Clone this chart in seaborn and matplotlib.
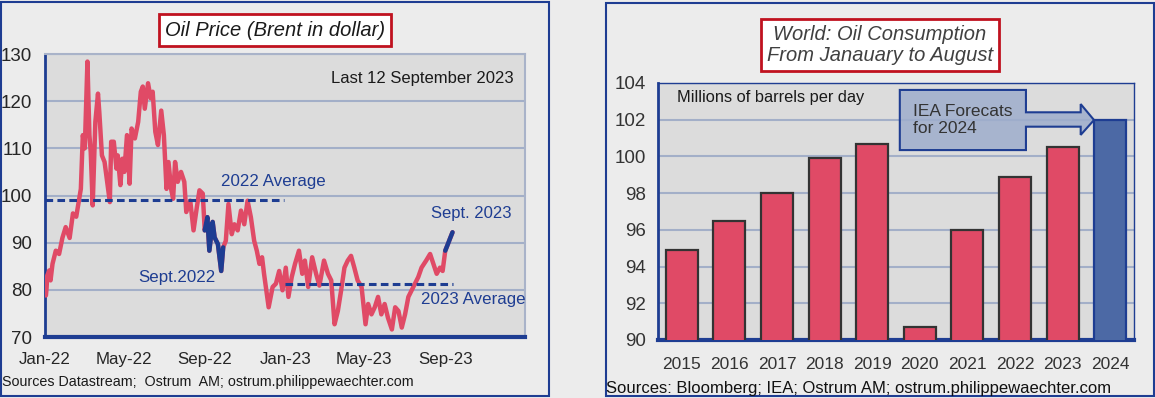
import numpy as np
import pandas as pd
import matplotlib
matplotlib.use('Agg')
from matplotlib import pyplot as plt
import matplotlib.dates as mdates
from matplotlib.patches import Rectangle, Polygon
import seaborn as sns

# Brent price
brent_dates = [
    '2022-01-03', '2022-01-04', '2022-01-05', '2022-01-08', '2022-01-10', '2022-01-13',
    '2022-01-18', '2022-01-23', '2022-01-28', '2022-02-02', '2022-02-08', '2022-02-13',
    '2022-02-18', '2022-02-20', '2022-02-25', '2022-02-28', '2022-03-03', '2022-03-07',
    '2022-03-10', '2022-03-12', '2022-03-15', '2022-03-19', '2022-03-23', '2022-03-25',
    '2022-03-29', '2022-04-02', '2022-04-06', '2022-04-10', '2022-04-12', '2022-04-16',
    '2022-04-20', '2022-04-22', '2022-04-26', '2022-04-29', '2022-05-02', '2022-05-06',
    '2022-05-10', '2022-05-13', '2022-05-18', '2022-05-23', '2022-05-27', '2022-05-30',
    '2022-06-02', '2022-06-07', '2022-06-11', '2022-06-14', '2022-06-18', '2022-06-22',
    '2022-06-27', '2022-07-01', '2022-07-05', '2022-07-08', '2022-07-12', '2022-07-15',
    '2022-07-18', '2022-07-22', '2022-07-27', '2022-08-01', '2022-08-04', '2022-08-10',
    '2022-08-15', '2022-08-20', '2022-08-24', '2022-08-29', '2022-09-01', '2022-09-05',
    '2022-09-08', '2022-09-13', '2022-09-16', '2022-09-21', '2022-09-26', '2022-09-29',
    '2022-10-03', '2022-10-07', '2022-10-12', '2022-10-16', '2022-10-21', '2022-10-26',
    '2022-10-31', '2022-11-05', '2022-11-10', '2022-11-15', '2022-11-19', '2022-11-23',
    '2022-11-27', '2022-11-30', '2022-12-07', '2022-12-13', '2022-12-18', '2022-12-23',
    '2022-12-28', '2023-01-02', '2023-01-06', '2023-01-11', '2023-01-16', '2023-01-22',
    '2023-01-27', '2023-01-31', '2023-02-05', '2023-02-11', '2023-02-17', '2023-02-22',
    '2023-03-01', '2023-03-07', '2023-03-12', '2023-03-17', '2023-03-22', '2023-03-27',
    '2023-04-01', '2023-04-06', '2023-04-11', '2023-04-16', '2023-04-21', '2023-04-27',
    '2023-05-03', '2023-05-07', '2023-05-12', '2023-05-17', '2023-05-22', '2023-05-27',
    '2023-06-01', '2023-06-06', '2023-06-12', '2023-06-17', '2023-06-22', '2023-06-27',
    '2023-07-02', '2023-07-07', '2023-07-12', '2023-07-17', '2023-07-22', '2023-07-27',
    '2023-08-03', '2023-08-09', '2023-08-14', '2023-08-19', '2023-08-24', '2023-08-28',
    '2023-09-01', '2023-09-05', '2023-09-08', '2023-09-12',
]
brent_prices = [
    78.8, 80.4, 83.0, 84.1, 82.0, 85.5,
    88.3, 87.6, 91.0, 93.3, 91.0, 96.2,
    95.5, 97.2, 101.4, 112.8, 110.0, 128.4,
    112.8, 109.2, 97.9, 115.6, 121.6, 117.7,
    108.5, 107.1, 102.9, 98.6, 111.4, 111.4,
    105.7, 108.5, 102.2, 107.8, 105.0, 112.8,
    102.5, 114.2, 112.1, 115.6, 122.0, 123.1,
    118.4, 123.8, 120.6, 122.0, 113.5, 110.7,
    118.0, 112.8, 101.4, 107.1, 101.4, 99.3,
    107.1, 102.9, 105.0, 102.9, 96.5, 98.9,
    92.6, 97.5, 101.1, 100.4, 92.6, 95.4,
    88.3, 94.4, 91.1, 89.7, 84.0, 89.0,
    90.4, 98.2, 91.8, 93.9, 92.6, 96.8,
    93.9, 98.9, 95.4, 90.4, 88.3, 85.5,
    86.9, 83.4, 76.3, 80.6, 81.3, 84.0,
    79.9, 84.7, 78.5, 82.7, 85.5, 88.3,
    83.4, 86.2, 80.6, 86.9, 83.4, 80.9,
    86.2, 83.4, 82.0, 72.7, 75.5, 79.9,
    84.7, 86.2, 87.2, 84.7, 82.0, 80.6,
    72.7, 77.0, 74.8, 76.3, 78.5, 74.8,
    77.0, 74.1, 71.6, 76.3, 75.5, 72.0,
    74.8, 78.5, 79.9, 81.3, 82.7, 84.7,
    86.2, 87.6, 85.5, 83.4, 84.7, 84.0,
    88.3, 89.7, 90.8, 92.2,
]

avg_2022 = 99.0
avg_2022_period = ['2022-01-01', '2022-12-31']
avg_2023 = 81.2
avg_2023_period = ['2023-01-01', '2023-09-12']

# World oil consumption Jan-Aug, mb/d
years = ['2015', '2016', '2017', '2018', '2019', '2020', '2021', '2022', '2023', '2024']
consumption = [94.9, 96.5, 98.0, 99.9, 100.7, 90.7, 96.0, 98.9, 100.5, 102.0]
forecast_year = '2024'

W, H = 1155, 398
BG = '#ECECEC'
PLOT_BG = '#DCDCDC'
RED = '#E04A66'
NAVY = '#1E3D92'
BAR_BLUE = '#4C69A5'
GRID = '#A3AFC8'

sns.set_style('white')
plt.rcParams['font.family'] = ['Liberation Sans Narrow', 'Liberation Sans', 'DejaVu Sans']

fig = plt.figure(figsize=(W / 100, H / 100), dpi=100, facecolor=BG)


def fx(x):
    return x / W


def fy(y):
    return 1 - y / H


# panel frames
for x0, x1, y0, y1 in [(1, 549, 2, 396), (606, 1154, 3, 396)]:
    fig.add_artist(Rectangle((fx(x0), fy(y1)), fx(x1) - fx(x0), fy(y0) - fy(y1),
                             transform=fig.transFigure, facecolor=BG, edgecolor=NAVY,
                             linewidth=1.5, zorder=-5))

# ---------------- left: Brent ----------------
df = pd.DataFrame({'date': pd.to_datetime(brent_dates), 'price': brent_prices})
ax1 = fig.add_axes([fx(44.6), fy(337), fx(525) - fx(44.6), fy(54) - fy(337)])
ax1.set_facecolor(PLOT_BG)

sns.lineplot(data=df, x='date', y='price', color=RED, linewidth=3.2, ax=ax1, zorder=3)
sept22 = df[(df['date'] >= '2022-09-01') & (df['date'] <= '2022-09-30')]
sept23 = df[df['date'] >= '2023-09-01']
for part in [sept22, sept23]:
    sns.lineplot(data=part, x='date', y='price', color=NAVY, linewidth=3.2, ax=ax1, zorder=4)

ax1.hlines(avg_2022, pd.to_datetime(avg_2022_period[0]), pd.to_datetime(avg_2022_period[1]),
           colors=NAVY, linewidth=2.2, linestyles=(0, (2.5, 1.4)), zorder=5)
ax1.hlines(avg_2023, pd.to_datetime(avg_2023_period[0]), pd.to_datetime(avg_2023_period[1]),
           colors=NAVY, linewidth=2.2, linestyles=(0, (2.5, 1.4)), zorder=5)

ax1.set_ylim(70, 130)
ax1.set_yticks(range(70, 131, 10))
ax1.xaxis.set_major_locator(mdates.MonthLocator(bymonth=[1, 5, 9]))
ax1.xaxis.set_major_formatter(mdates.DateFormatter('%b-%y'))
ax1.set_xlim(pd.Timestamp('2022-01-01'), pd.Timestamp('2023-12-31'))
ax1.grid(axis='y', color=GRID, linewidth=1.5)
ax1.set_axisbelow(True)
ax1.set_xlabel('')
ax1.set_ylabel('')
ax1.tick_params(axis='y', length=0, labelsize=13.5, colors='#262626', pad=9)
ax1.tick_params(axis='x', length=0, labelsize=12.2, colors='#262626', pad=10.5)
ax1.spines['left'].set_color(NAVY)
ax1.spines['left'].set_linewidth(2)
ax1.spines['bottom'].set_color(NAVY)
ax1.spines['bottom'].set_linewidth(3)
for s in ['top', 'right']:
    ax1.spines[s].set_color('#A9B3C9')
    ax1.spines[s].set_linewidth(1.5)

ax1.text(0.977, 0.912, 'Last 12 September 2023', transform=ax1.transAxes, ha='right',
         va='center', fontsize=12, color='#1a1a1a')
ax1.text(0.367, 0.548, '2022 Average', transform=ax1.transAxes, ha='left', va='center',
         fontsize=12.2, color=NAVY, zorder=6)
ax1.text(0.194, 0.212, 'Sept.2022', transform=ax1.transAxes, ha='left', va='center',
         fontsize=12.2, color=NAVY, zorder=6)
ax1.text(0.804, 0.438, 'Sept. 2023', transform=ax1.transAxes, ha='left', va='center',
         fontsize=12, color=NAVY, zorder=6)
ax1.text(0.783, 0.131, '2023 Average', transform=ax1.transAxes, ha='left', va='center',
         fontsize=12.2, color=NAVY, zorder=6)

fig.text(fx(275), fy(30), 'Oil Price (Brent in dollar)', ha='center', va='center',
         fontsize=14.5, style='italic', color='#1a1a1a',
         bbox=dict(boxstyle='square,pad=0.3', facecolor='white', edgecolor='#C0121F', linewidth=2))
fig.text(fx(2), fy(382), 'Sources Datastream;  Ostrum  AM; ostrum.philippewaechter.com',
         ha='left', va='center', fontsize=10.3, color='#1a1a1a')

# ---------------- right: consumption ----------------
ax2 = fig.add_axes([fx(658), fy(340), fx(1134) - fx(658), fy(83) - fy(340)])
ax2.set_facecolor(PLOT_BG)
colors = {y: (BAR_BLUE if y == forecast_year else RED) for y in years}
sns.barplot(x=years, y=consumption, hue=years, palette=colors, legend=False, width=0.67,
            saturation=1, ax=ax2, zorder=3)
for patch, y in zip(ax2.patches, years):
    patch.set_edgecolor(NAVY if y == forecast_year else '#333333')
    patch.set_linewidth(1.6)

ax2.set_ylim(90, 104)
ax2.set_yticks(range(90, 105, 2))
ax2.set_xlim(-0.5, 9.5)
ax2.set_xlabel('')
ax2.set_ylabel('')
ax2.grid(axis='y', color=GRID, linewidth=1.5)
ax2.set_axisbelow(True)
ax2.tick_params(axis='y', length=0, labelsize=13.5, colors='#333333', pad=9)
ax2.tick_params(axis='x', length=0, labelsize=12.5, colors='#333333', pad=12)
ax2.spines['left'].set_color(NAVY)
ax2.spines['left'].set_linewidth(2)
ax2.spines['bottom'].set_color(NAVY)
ax2.spines['bottom'].set_linewidth(3)
for s in ['top', 'right']:
    ax2.spines[s].set_color(NAVY)
    ax2.spines[s].set_linewidth(1)

ax2.text(0.04, 0.942, 'Millions of barrels per day', transform=ax2.transAxes, ha='left',
         va='center', fontsize=11.8, color='#1a1a1a')

# forecast call-out with arrow towards the 2024 bar
callout = [(0.508, 0.973), (0.773, 0.973), (0.773, 0.886), (0.888, 0.886), (0.888, 0.918),
           (0.916, 0.856), (0.888, 0.798), (0.888, 0.830), (0.773, 0.830), (0.773, 0.739),
           (0.508, 0.739)]
ax2.add_patch(Polygon(callout, closed=True, transform=ax2.transAxes,
                      facecolor=(0.62, 0.68, 0.80, 0.85), edgecolor=NAVY, linewidth=1.5, zorder=6))
ax2.text(0.536, 0.856, 'IEA Forecats\nfor 2024', transform=ax2.transAxes, ha='left',
         va='center', fontsize=12.5, color='#333333', linespacing=1.15, zorder=7)

fig.text(fx(880), fy(45), 'World: Oil Consumption\nFrom Janauary to August', ha='center',
         va='center', fontsize=14.5, style='italic', color='#404040', linespacing=1.15,
         bbox=dict(boxstyle='square,pad=0.3', facecolor='white', edgecolor='#C0121F', linewidth=2))
fig.text(fx(606), fy(388), 'Sources: Bloomberg; IEA; Ostrum AM; ostrum.philippewaechter.com',
         ha='left', va='center', fontsize=12, color='#111111')

fig.savefig('out.png', dpi=100, facecolor=BG)
